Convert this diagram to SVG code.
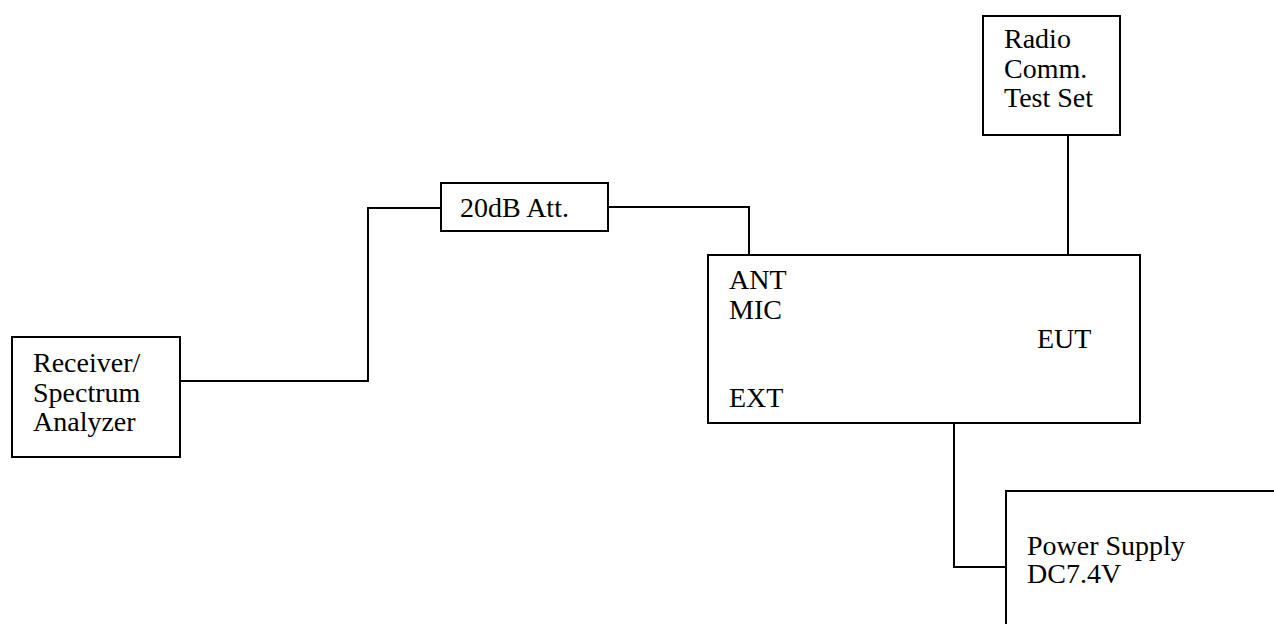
<svg xmlns="http://www.w3.org/2000/svg" width="1274" height="624" viewBox="0 0 1274 624">
<style>
.box{fill:#fff;stroke:#000;stroke-width:2}
.ln{fill:none;stroke:#000;stroke-width:2}
</style>
<rect width="1274" height="624" fill="#fff"/>
<g id="connectors">
<polyline class="ln" points="180,381 368,381 368,208 441,208"/>
<polyline class="ln" points="608,207 749,207 749,255"/>
<line class="ln" x1="1068" y1="135" x2="1068" y2="255"/>
<polyline class="ln" points="954,423 954,567 1006,567"/>
</g>
<g font-family="'Times New Roman', Tinos, 'Liberation Serif', 'Noto Serif', 'DejaVu Serif', FreeSerif, Times, serif" font-size="28" fill="#000">
<g id="receiver">
<rect class="box" x="12" y="337" width="168" height="120"/>
<text x="33" y="372">Receiver/</text>
<text x="33" y="402">Spectrum</text>
<text x="33" y="431">Analyzer</text>
</g>
<g id="attenuator">
<rect class="box" x="441" y="183" width="167" height="48"/>
<text x="460" y="217">20dB Att.</text>
</g>
<g id="eut">
<rect class="box" x="708" y="255" width="432" height="168"/>
<text x="729" y="289">ANT</text>
<text x="729" y="319">MIC</text>
<text x="1037" y="348">EUT</text>
<text x="729" y="407">EXT</text>
</g>
<g id="radio">
<rect class="box" x="983" y="16" width="137" height="119"/>
<text x="1004" y="48">Radio</text>
<text x="1004" y="78">Comm.</text>
<text x="1004" y="107">Test Set</text>
</g>
<g id="power">
<rect class="box" x="1006" y="491" width="280" height="150"/>
<text x="1027" y="555">Power Supply</text>
<text x="1027" y="583">DC7.4V</text>
</g>
</g>
</svg>
